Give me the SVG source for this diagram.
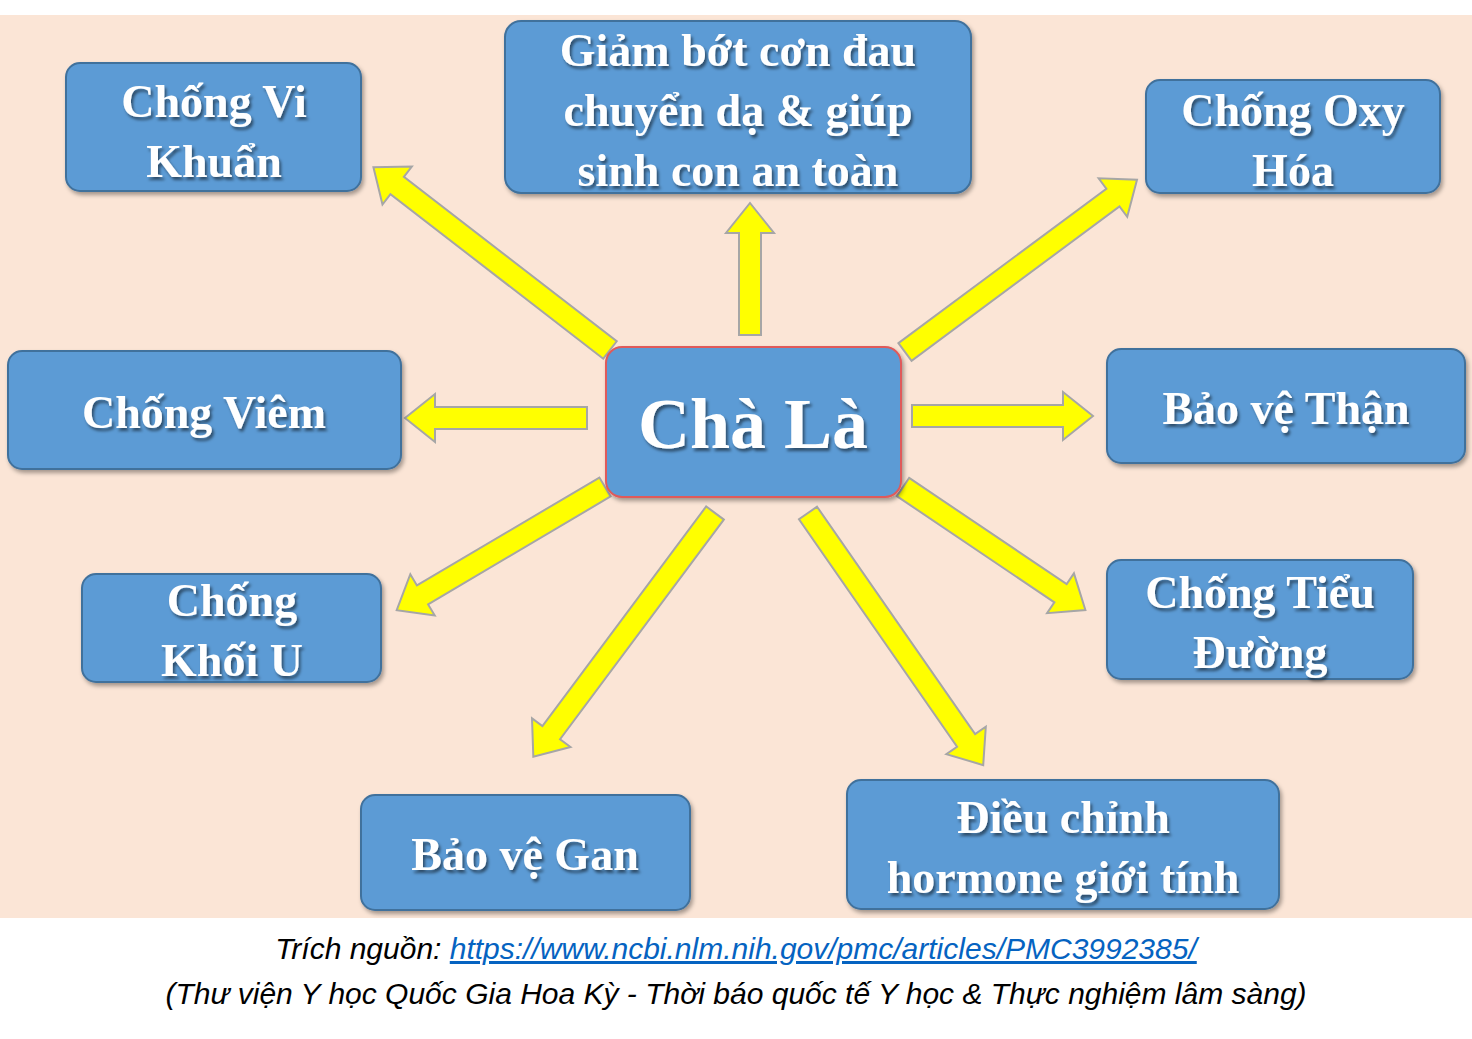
<svg xmlns="http://www.w3.org/2000/svg" width="1472" height="1039" viewBox="0 0 1472 1039">
<defs>
<filter id="sh" x="-10%" y="-10%" width="130%" height="130%"><feDropShadow dx="2" dy="3" stdDeviation="1.5" flood-color="#000" flood-opacity="0.5"/></filter>
<filter id="bs" x="-10%" y="-10%" width="130%" height="130%"><feDropShadow dx="2" dy="3" stdDeviation="2" flood-color="#000" flood-opacity="0.35"/></filter>
</defs>
<style>
.box{fill:#5B9BD5;stroke:#41719C;stroke-width:2;filter:url(#bs)}
.t{font-family:"Liberation Serif","DejaVu Serif",serif;font-weight:bold;font-size:46px;fill:#fff;text-anchor:middle;filter:url(#sh)}
.ar{fill:#FFFF00;stroke:#A6A6A6;stroke-width:2}
.f{font-family:"Liberation Sans","DejaVu Sans",sans-serif;font-style:italic;font-size:30px;fill:#000;text-anchor:middle}
</style>
<rect width="1472" height="1039" fill="#fff"/>
<rect x="0" y="15" width="1472" height="903" fill="#FBE5D6"/>
<g id="connectors">
<polygon class="ar" transform="translate(610,350) rotate(217.7)" points="0,-11 269,-11 269,-24 299,0 269,24 269,11 0,11"/>
<polygon class="ar" transform="translate(750,335) rotate(-90)" points="0,-11 102,-11 102,-24 132,0 102,24 102,11 0,11"/>
<polygon class="ar" transform="translate(905,352) rotate(-36.6)" points="0,-11 259,-11 259,-24 289,0 259,24 259,11 0,11"/>
<polygon class="ar" transform="translate(587,418) rotate(180)" points="0,-11 152,-11 152,-24 182,0 152,24 152,11 0,11"/>
<polygon class="ar" transform="translate(912,416) rotate(0)" points="0,-11 151,-11 151,-24 181,0 151,24 151,11 0,11"/>
<polygon class="ar" transform="translate(605,487) rotate(149.4)" points="0,-11 212,-11 212,-24 242,0 212,24 212,11 0,11"/>
<polygon class="ar" transform="translate(715,513) rotate(126.7)" points="0,-11 274,-11 274,-24 304,0 274,24 274,11 0,11"/>
<polygon class="ar" transform="translate(808,513) rotate(55.2)" points="0,-11 277,-11 277,-24 307,0 277,24 277,11 0,11"/>
<polygon class="ar" transform="translate(903,487) rotate(34)" points="0,-11 190,-11 190,-24 220,0 190,24 190,11 0,11"/>
</g>
<g id="n-vikhuan"><rect class="box" x="66" y="63" width="295" height="128" rx="14"/><text class="t" x="214" y="117">Chống Vi</text><text class="t" x="214" y="177">Khuẩn</text></g>
<g id="n-giam"><rect class="box" x="505" y="21" width="466" height="172" rx="16"/><text class="t" x="738" y="66">Giảm bớt cơn đau</text><text class="t" x="738" y="126">chuyển dạ &amp; giúp</text><text class="t" x="738" y="186">sinh con an toàn</text></g>
<g id="n-oxy"><rect class="box" x="1146" y="80" width="294" height="113" rx="14"/><text class="t" x="1293" y="126">Chống Oxy</text><text class="t" x="1293" y="186">Hóa</text></g>
<g id="n-viem"><rect class="box" x="8" y="351" width="393" height="118" rx="14"/><text class="t" x="204" y="428">Chống Viêm</text></g>
<g id="n-chala"><rect class="box" x="606" y="347" width="295" height="150" rx="16" style="stroke:#E05A5A"/><text class="t" x="753" y="448" style="font-size:72px">Chà Là</text></g>
<g id="n-than"><rect class="box" x="1107" y="349" width="358" height="114" rx="14"/><text class="t" x="1286" y="424">Bảo vệ Thận</text></g>
<g id="n-khoiu"><rect class="box" x="82" y="574" width="299" height="108" rx="14"/><text class="t" x="232" y="616">Chống</text><text class="t" x="232" y="676">Khối U</text></g>
<g id="n-tieuduong"><rect class="box" x="1107" y="560" width="306" height="119" rx="14"/><text class="t" x="1260" y="608">Chống Tiểu</text><text class="t" x="1260" y="668">Đường</text></g>
<g id="n-gan"><rect class="box" x="361" y="795" width="329" height="115" rx="14"/><text class="t" x="525" y="870">Bảo vệ Gan</text></g>
<g id="n-hormone"><rect class="box" x="847" y="780" width="432" height="129" rx="14"/><text class="t" x="1063" y="833">Điều chỉnh</text><text class="t" x="1063" y="893">hormone giới tính</text></g>
<text class="f" x="736" y="959">Trích nguồn: <tspan fill="#0563C1" text-decoration="underline">https://www.ncbi.nlm.nih.gov/pmc/articles/PMC3992385/</tspan></text>
<text class="f" x="736" y="1004">(Thư viện Y học Quốc Gia Hoa Kỳ - Thời báo quốc tế Y học &amp; Thực nghiệm lâm sàng)</text>
</svg>
